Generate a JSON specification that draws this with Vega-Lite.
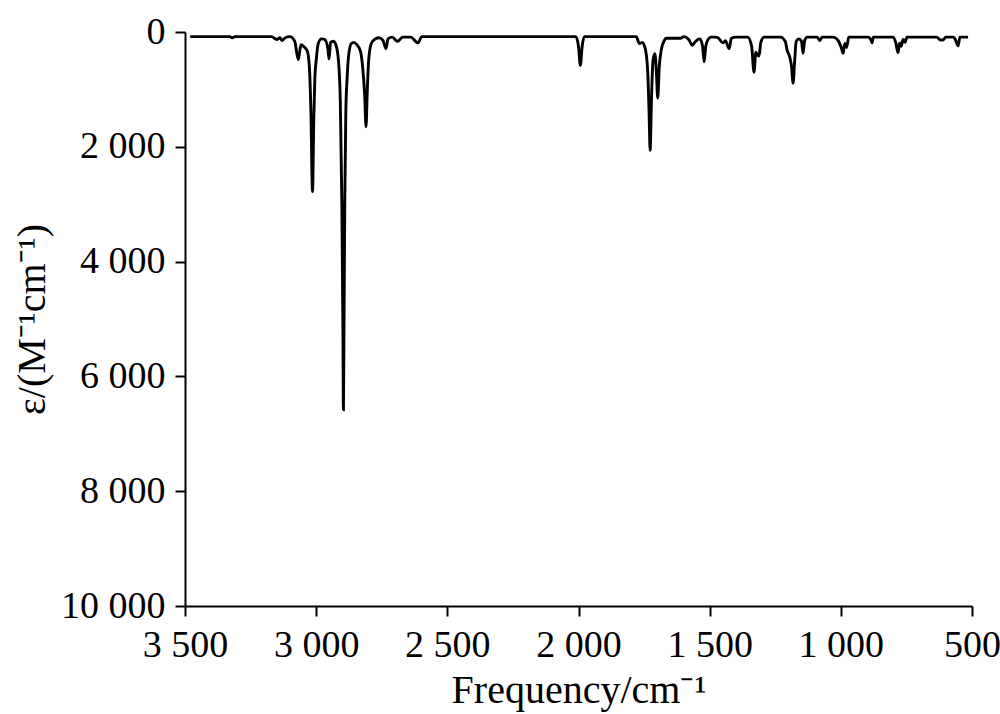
{
  "$schema": "https://vega.github.io/schema/vega-lite/v6.json",
  "width": 787,
  "height": 574,
  "autosize": {"type": "none"},
  "padding": {"left": 185, "top": 32, "right": 28, "bottom": 108},
  "background": "white",
  "config": {
    "view": {"stroke": null},
    "font": "Liberation Serif",
    "axis": {
      "grid": false,
      "domainColor": "black",
      "domainWidth": 2,
      "tickColor": "black",
      "tickWidth": 2,
      "tickSize": 10,
      "labelColor": "black",
      "titleColor": "black",
      "labelFont": "Liberation Serif",
      "titleFont": "Liberation Serif",
      "labelFontSize": 38,
      "titleFontSize": 40,
      "titleFontWeight": "normal"
    }
  },
  "data": {
    "values": [
      {"f": 3480, "e": 80}, {"f": 3330, "e": 80}, {"f": 3320, "e": 100}, {"f": 3310, "e": 80},
      {"f": 3170, "e": 80}, {"f": 3150, "e": 130}, {"f": 3138, "e": 100}, {"f": 3130, "e": 150},
      {"f": 3118, "e": 100}, {"f": 3100, "e": 80}, {"f": 3082, "e": 160}, {"f": 3068, "e": 480},
      {"f": 3058, "e": 220}, {"f": 3046, "e": 260}, {"f": 3034, "e": 330}, {"f": 3026, "e": 600},
      {"f": 3020, "e": 1400}, {"f": 3014, "e": 2780}, {"f": 3009, "e": 1500}, {"f": 3005, "e": 800},
      {"f": 3000, "e": 500}, {"f": 2992, "e": 200}, {"f": 2980, "e": 120}, {"f": 2968, "e": 130},
      {"f": 2955, "e": 300}, {"f": 2951, "e": 470}, {"f": 2945, "e": 180}, {"f": 2935, "e": 160},
      {"f": 2925, "e": 220}, {"f": 2915, "e": 500}, {"f": 2908, "e": 1200}, {"f": 2902, "e": 3000},
      {"f": 2898, "e": 5200}, {"f": 2896, "e": 6580}, {"f": 2894, "e": 5200}, {"f": 2891, "e": 3000},
      {"f": 2887, "e": 1400}, {"f": 2882, "e": 800}, {"f": 2876, "e": 400}, {"f": 2866, "e": 200},
      {"f": 2856, "e": 180}, {"f": 2845, "e": 220}, {"f": 2832, "e": 320}, {"f": 2822, "e": 650},
      {"f": 2815, "e": 1100}, {"f": 2810, "e": 1650}, {"f": 2805, "e": 1000}, {"f": 2800, "e": 500},
      {"f": 2790, "e": 200}, {"f": 2775, "e": 120}, {"f": 2760, "e": 100}, {"f": 2745, "e": 150},
      {"f": 2734, "e": 290}, {"f": 2726, "e": 120}, {"f": 2710, "e": 90}, {"f": 2690, "e": 160},
      {"f": 2670, "e": 90}, {"f": 2640, "e": 90}, {"f": 2612, "e": 190}, {"f": 2597, "e": 80},
      {"f": 2010, "e": 80}, {"f": 2000, "e": 250}, {"f": 1993, "e": 580}, {"f": 1986, "e": 250},
      {"f": 1978, "e": 80}, {"f": 1780, "e": 80}, {"f": 1768, "e": 200}, {"f": 1757, "e": 180},
      {"f": 1745, "e": 300}, {"f": 1736, "e": 700}, {"f": 1731, "e": 1400}, {"f": 1727, "e": 2060},
      {"f": 1722, "e": 1200}, {"f": 1716, "e": 500}, {"f": 1709, "e": 380}, {"f": 1703, "e": 700},
      {"f": 1698, "e": 1150}, {"f": 1692, "e": 600}, {"f": 1684, "e": 300}, {"f": 1672, "e": 140},
      {"f": 1665, "e": 110}, {"f": 1612, "e": 110}, {"f": 1598, "e": 80}, {"f": 1580, "e": 130},
      {"f": 1566, "e": 230}, {"f": 1555, "e": 170}, {"f": 1537, "e": 120}, {"f": 1527, "e": 250},
      {"f": 1521, "e": 520}, {"f": 1515, "e": 250}, {"f": 1506, "e": 130}, {"f": 1495, "e": 90},
      {"f": 1478, "e": 90}, {"f": 1468, "e": 100}, {"f": 1450, "e": 190}, {"f": 1440, "e": 150},
      {"f": 1426, "e": 290}, {"f": 1417, "e": 110}, {"f": 1400, "e": 90}, {"f": 1355, "e": 90},
      {"f": 1340, "e": 250}, {"f": 1331, "e": 700}, {"f": 1324, "e": 350}, {"f": 1320, "e": 380},
      {"f": 1312, "e": 420}, {"f": 1305, "e": 180}, {"f": 1292, "e": 90}, {"f": 1230, "e": 90},
      {"f": 1212, "e": 160}, {"f": 1205, "e": 310}, {"f": 1194, "e": 450}, {"f": 1188, "e": 600},
      {"f": 1182, "e": 890}, {"f": 1176, "e": 500}, {"f": 1170, "e": 160}, {"f": 1160, "e": 120},
      {"f": 1150, "e": 160}, {"f": 1144, "e": 370}, {"f": 1138, "e": 150}, {"f": 1128, "e": 90},
      {"f": 1090, "e": 90}, {"f": 1080, "e": 150}, {"f": 1072, "e": 90}, {"f": 1030, "e": 90},
      {"f": 1010, "e": 150}, {"f": 1000, "e": 250}, {"f": 991, "e": 370}, {"f": 985, "e": 200},
      {"f": 978, "e": 270}, {"f": 970, "e": 90}, {"f": 950, "e": 90}, {"f": 896, "e": 90},
      {"f": 884, "e": 150}, {"f": 881, "e": 190}, {"f": 876, "e": 90}, {"f": 800, "e": 90},
      {"f": 790, "e": 200}, {"f": 782, "e": 360}, {"f": 776, "e": 190}, {"f": 770, "e": 250},
      {"f": 763, "e": 130}, {"f": 755, "e": 180}, {"f": 748, "e": 90}, {"f": 635, "e": 90},
      {"f": 620, "e": 140}, {"f": 610, "e": 140}, {"f": 600, "e": 90}, {"f": 570, "e": 90},
      {"f": 562, "e": 150}, {"f": 553, "e": 240}, {"f": 546, "e": 90}, {"f": 515, "e": 90}
    ]
  },
  "mark": {"type": "line", "color": "black", "strokeWidth": 2.9, "interpolate": "monotone"},
  "encoding": {
    "x": {
      "field": "f",
      "type": "quantitative",
      "scale": {"domain": [500, 3500], "reverse": true, "nice": false, "zero": false},
      "axis": {
        "title": "Frequency/cm⁻¹",
        "values": [3500, 3000, 2500, 2000, 1500, 1000, 500],
        "labelExpr": "replace(format(datum.value, ','), ',', ' ')",
        "labelPadding": 10,
        "titlePadding": 6,
        "labelFlush": false,
        "labelOverlap": false
      }
    },
    "y": {
      "field": "e",
      "type": "quantitative",
      "scale": {"domain": [0, 10000], "reverse": true, "nice": false},
      "axis": {
        "title": "ε/(M⁻¹cm⁻¹)",
        "values": [0, 2000, 4000, 6000, 8000, 10000],
        "labelExpr": "replace(format(datum.value, ','), ',', ' ')",
        "labelPadding": 10,
        "titlePadding": 8,
        "labelFlush": false,
        "labelOverlap": false
      }
    }
  }
}
